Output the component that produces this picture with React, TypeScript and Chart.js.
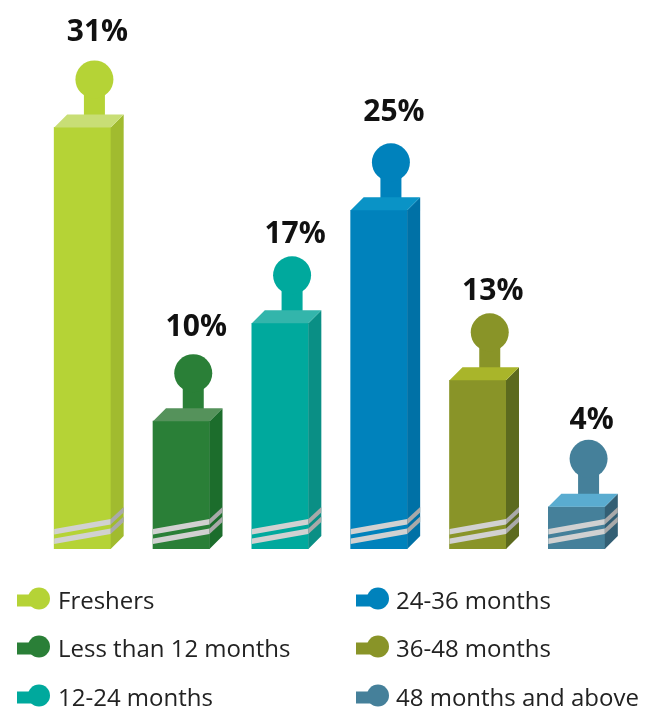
import React, { useEffect, useRef } from "react";
import { Chart, registerables } from "chart.js";

Chart.register(...registerables);

const categories = ["Freshers", "Less than 12 months", "12-24 months", "24-36 months", "36-48 months", "48 months and above"];
const valueLabels = ["31%", "10%", "17%", "25%", "13%", "4%"];
const barHeights = [31, 9.4, 16.6, 24.9, 12.4, 3.1];
const frontColors = ["#B5D336", "#2A7F37", "#00A99D", "#0082BC", "#899428", "#45809A"];
const sideColors = ["#A1BB2F", "#1C6D2C", "#0A8F85", "#0071A6", "#5C6A1E", "#335F74"];
const topColors = ["#C8DE75", "#55925B", "#33B5AB", "#0A93C6", "#A9B52A", "#5AACD0"];
const labelLift = [95, 94, 89, 97.5, 89, 86.5];

const FONT = '"Open Sans", "Noto Sans", sans-serif';
const DEPTH = 13;

const poly = (ctx: CanvasRenderingContext2D, pts: number[][], fill: string) => {
  ctx.beginPath();
  pts.forEach(([x, y], i) => (i ? ctx.lineTo(x, y) : ctx.moveTo(x, y)));
  ctx.closePath();
  ctx.fillStyle = fill;
  ctx.fill();
};

const pictogram = {
  id: "pictogram",
  afterDatasetsDraw(chart: any) {
    const ctx: CanvasRenderingContext2D = chart.ctx;
    const meta = chart.getDatasetMeta(0);
    ctx.save();
    meta.data.forEach((el: any, i: number) => {
      const l = el.x - el.width / 2;
      const r = el.x + el.width / 2;
      const t = el.y;
      const b = el.base;
      const cx = el.x + 12;
      // stem + head
      ctx.fillStyle = frontColors[i];
      ctx.fillRect(cx - 10.5, t - 34, 21, 22);
      ctx.beginPath();
      ctx.arc(cx, t - 48, 19, 0, Math.PI * 2);
      ctx.fill();
      // 3D faces
      poly(ctx, [[r, b], [r + DEPTH, b - DEPTH], [r + DEPTH, t - DEPTH], [r, t]], sideColors[i]);
      poly(ctx, [[l, t], [l + DEPTH, t - DEPTH], [r + DEPTH, t - DEPTH], [r, t]], topColors[i]);
      // stripes
      [0, 9.5].forEach((dy) => {
        const yl = b - 14.5 + dy;
        const yr = b - 24.5 + dy;
        poly(ctx, [[l, yl], [r, yr], [r, yr - 5.5], [l, yl - 5.5]], "#D1D1D1");
        poly(ctx, [[r, yr], [r + DEPTH, yr - 12], [r + DEPTH, yr - 17.5], [r, yr - 5.5]], "#A9A9A9");
      });
      // value label
      ctx.fillStyle = "#111111";
      ctx.font = `bold 30px ${FONT}`;
      ctx.textAlign = "center";
      ctx.textBaseline = "middle";
      ctx.fillText(valueLabels[i], cx + 3, t - labelLift[i]);
    });
    // legend
    const colX = [17, 356];
    const rowY = [601, 649, 698];
    categories.forEach((name, i) => {
      const col = i < 3 ? 0 : 1;
      const x = colX[col];
      const y = rowY[i % 3];
      ctx.fillStyle = frontColors[i];
      ctx.fillRect(x, y - 6.5, 18, 12);
      ctx.beginPath();
      ctx.arc(x + 22, y - 2.5, 11, 0, Math.PI * 2);
      ctx.fill();
      ctx.fillStyle = "#222222";
      ctx.font = `24px ${FONT}`;
      ctx.textAlign = "left";
      ctx.textBaseline = "middle";
      ctx.fillText(name, x + (col ? 40 : 41), y + 1);
    });
    ctx.restore();
  },
};

export default function App() {
  const ref = useRef<HTMLCanvasElement>(null);
  useEffect(() => {
    const chart = new Chart(ref.current!, {
      type: "bar",
      data: {
        labels: categories,
        datasets: [{ data: barHeights, backgroundColor: frontColors, barThickness: 56.5, borderWidth: 0 }],
      },
      options: {
        responsive: false,
        animation: false,
        layout: { padding: { left: 33, right: 20, top: 5, bottom: 160 } },
        plugins: { legend: { display: false }, tooltip: { enabled: false } },
        scales: {
          x: { display: false },
          y: { display: false, min: 0, max: 40 },
        },
      },
      plugins: [pictogram],
    });
    return () => chart.destroy();
  }, []);
  return (
    <div style={{ position: "absolute", left: 0, top: 0, width: 646, height: 709 }}>
      <canvas ref={ref} width={646} height={709} style={{ display: "block" }} />
    </div>
  );
}
